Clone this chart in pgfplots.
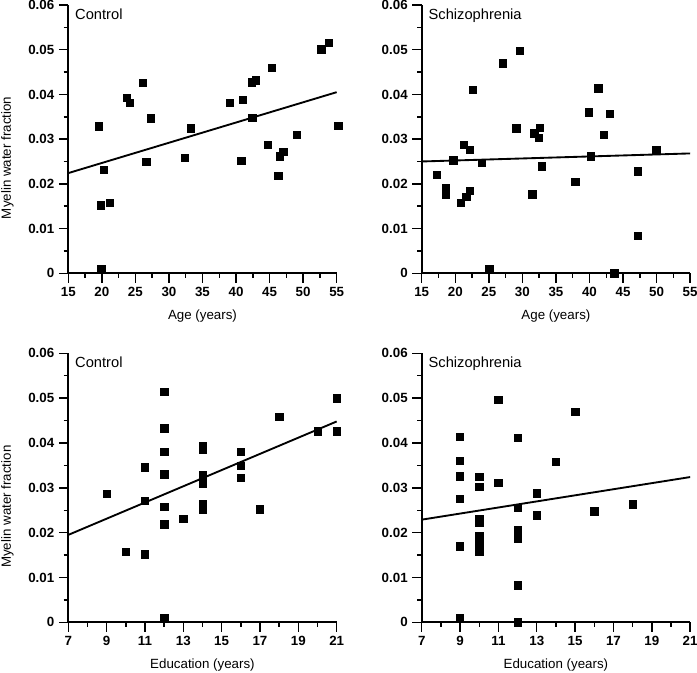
\documentclass[border=0pt]{standalone}
\usepackage{fontspec}
\setmainfont{Liberation Sans}
\usepackage{pgfplots}
\pgfplotsset{compat=1.18}

\pgfplotstableread{
x y
19.5 0.0329
19.8 0.0152
20.3 0.0231
21.2 0.0157
19.9 0.0009
23.75 0.0393
24.15 0.0382
26.1 0.0426
26.6 0.0250
27.3 0.0347
32.35 0.0259
33.3 0.0324
39.1 0.0381
40.8 0.0252
41.05 0.0388
42.3 0.0427
42.95 0.0432
42.4 0.0348
45.35 0.0460
44.7 0.0287
46.3 0.0218
46.55 0.0262
47.05 0.0272
49.1 0.0309
52.7 0.0501
53.8 0.0515
55.25 0.0330
}\ctrlage

\pgfplotstableread{
x y
17.25 0.0221
18.6 0.0191
18.6 0.0176
19.7 0.0253
20.85 0.0157
21.65 0.0171
22.15 0.0184
21.25 0.0288
22.15 0.0276
22.6 0.0411
23.9 0.0247
25.05 0.0010
27.1 0.0470
29.1 0.0324
29.6 0.0497
31.45 0.0177
31.75 0.0313
32.55 0.0325
32.45 0.0303
32.85 0.0239
37.9 0.0204
39.85 0.0360
40.2 0.0262
41.3 0.0414
42.15 0.0310
43.0 0.0357
43.7 0.0000
47.2 0.0228
47.15 0.0084
49.95 0.0275
}\schizage

\pgfplotstableread{
x y
9 0.0287
10 0.0158
11 0.0346
11 0.0271
11 0.0152
12 0.0514
12 0.0433
12 0.0381
12 0.0330
12 0.0258
12 0.0219
12 0.0009
13 0.0231
14 0.0393
14 0.0386
14 0.0329
14 0.0310
14 0.0264
14 0.0251
16 0.0381
16 0.0349
16 0.0323
17 0.0252
18 0.0459
20 0.0426
21 0.0500
21 0.0426
}\ctrledu

\pgfplotstableread{
x y
9 0.0414
9 0.0360
9 0.0326
9 0.0276
9 0.0170
9 0.0009
10 0.0325
10 0.0302
10 0.0231
10 0.0223
10 0.0193
10 0.0181
10 0.0170
10 0.0158
11 0.0497
11 0.0312
12 0.0412
12 0.0255
12 0.0205
12 0.0186
12 0.0083
12 0.0000
13 0.0288
13 0.0239
14 0.0358
15 0.0470
16 0.0248
18 0.0263
}\schizedu

\tikzset{ttl/.style={anchor=north west, inner sep=0pt, font=\fontsize{11}{12}\selectfont}}

\pgfplotsset{
  panel/.style={
    width=201.3pt, height=201.2pt, scale only axis,
    axis lines*=left,
    axis line style={line width=1.5pt},
    tick style={line width=1.1pt, black},
    tick align=outside,
    major tick length=7pt, minor tick length=3.5pt,
    ymin=0, ymax=0.06,
    scaled y ticks=false, scaled x ticks=false,
    ytick={0,0.01,0.02,0.03,0.04,0.05,0.06},
    yticklabels={0,0.01,0.02,0.03,0.04,0.05,0.06},
    minor y tick num=1,
    minor x tick num=1,
    tick label style={font=\fontsize{10}{12}\selectfont\bfseries},
    label style={font=\fontsize{10}{12}\selectfont},
    xlabel style={at={(axis description cs:0.5,-0.16)}, anchor=center},
    clip=false,
  },
  agepanel/.style={xmin=15, xmax=55, xtick={15,20,25,30,35,40,45,50,55},
    xticklabels={15,20,25,30,35,40,45,50,55}, xlabel={Age (years)}},
  edupanel/.style={xmin=7, xmax=21, xtick={7,9,11,13,15,17,19,21},
    xticklabels={7,9,11,13,15,17,19,21}, xlabel={Education (years)}},
  leftpanel/.style={ylabel={Myelin water fraction},
    ylabel style={at={(axis description cs:-0.2265,0.43)}, anchor=center}},
  pts/.style={only marks, mark=square*, mark size=2.75pt, black},
  fit/.style={black, line width=1.4pt, no marks},
}

\begin{document}
\begin{tikzpicture}
\useasboundingbox (0,0) rectangle (522.75pt,504.75pt);

\begin{axis}[panel, agepanel, leftpanel, anchor=south west, at={(51.2pt,299.8pt)}]
\addplot[pts] table[x=x,y=y] {\ctrlage};
\addplot[fit] coordinates {(15,0.0224) (55,0.0405)};
\node[ttl] at (rel axis cs:0.025,0.988) {Control};
\end{axis}

\begin{axis}[panel, agepanel, anchor=south west, at={(316.3pt,299.8pt)}]
\addplot[pts] table[x=x,y=y] {\schizage};
\addplot[fit] coordinates {(15,0.0250) (55,0.0268)};
\node[ttl] at (rel axis cs:0.025,0.988) {Schizophrenia};
\end{axis}

\begin{axis}[panel, edupanel, leftpanel, height=201.75pt, anchor=south west, at={(51.2pt,38.0pt)}]
\addplot[pts] table[x=x,y=y] {\ctrledu};
\addplot[fit] coordinates {(7,0.0195) (21,0.0448)};
\node[ttl] at (rel axis cs:0.025,0.988) {Control};
\end{axis}

\begin{axis}[panel, edupanel, height=201.75pt, anchor=south west, at={(316.3pt,38.0pt)}]
\addplot[pts] table[x=x,y=y] {\schizedu};
\addplot[fit] coordinates {(7,0.0229) (21,0.0324)};
\node[ttl] at (rel axis cs:0.025,0.988) {Schizophrenia};
\end{axis}
\end{tikzpicture}
\end{document}
